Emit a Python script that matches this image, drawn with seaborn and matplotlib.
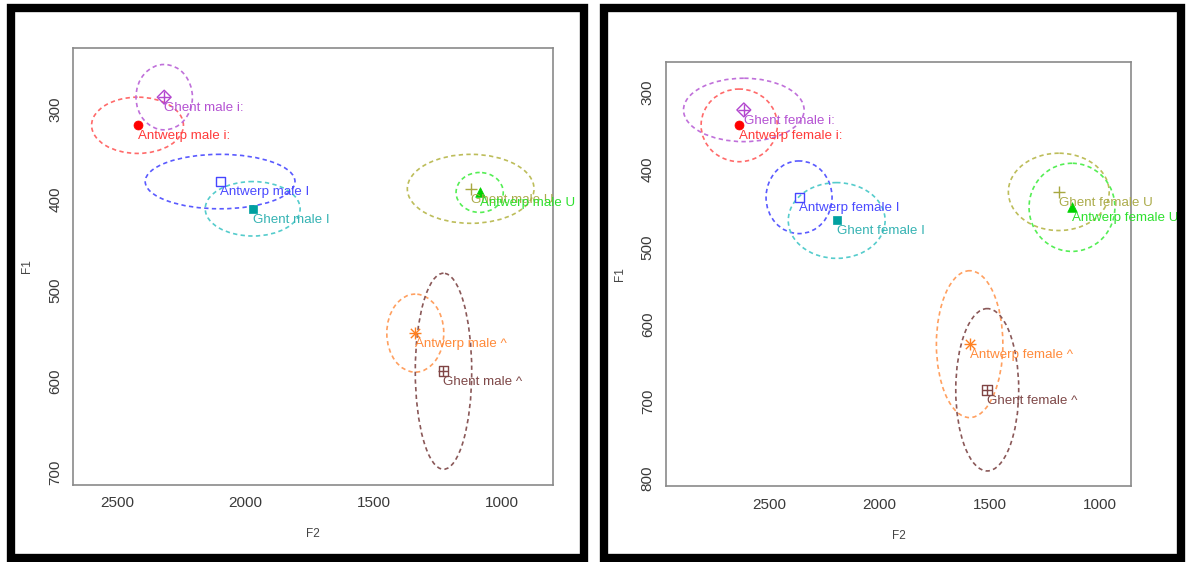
import matplotlib
matplotlib.use("Agg")
import matplotlib.pyplot as plt
import seaborn as sns
import pandas as pd
from matplotlib.patches import Ellipse, Rectangle

# ---------------- data ----------------
vowel_keys = ["Antwerp i:", "Ghent i:", "Antwerp I", "Ghent I",
              "Ghent U", "Antwerp U", "Antwerp ^", "Ghent ^"]

male_labels = ["Antwerp male i:", "Ghent male i:", "Antwerp male I", "Ghent male I",
               "Ghent male U", "Antwerp male U", "Antwerp male ^", "Ghent male ^"]
male_f2 = [2420, 2316, 2098, 1971, 1121, 1086, 1337, 1227]
male_f1 = [318, 287, 380, 410, 388, 392, 547, 589]
male_f2_spread = [179, 110, 292, 185, 247, 92, 111, 110]
male_f1_spread = [31, 36, 30, 30, 38, 22, 43, 108]

female_labels = ["Antwerp female i:", "Ghent female i:", "Antwerp female I", "Ghent female I",
                 "Ghent female U", "Antwerp female U", "Antwerp female ^", "Ghent female ^"]
female_f2 = [2637, 2616, 2365, 2194, 1185, 1125, 1590, 1510]
female_f1 = [343, 323, 436, 466, 429, 449, 626, 685]
female_f2_spread = [173, 274, 150, 220, 229, 195, 151, 143]
female_f1_spread = [47, 41, 47, 49, 50, 57, 95, 105]

male_xticks = [2500, 2000, 1500, 1000]
male_yticks = [300, 400, 500, 600, 700]
female_xticks = [2500, 2000, 1500, 1000]
female_yticks = [300, 400, 500, 600, 700, 800]

# ---------------- style ----------------
point_colors = ["#FF0000", "#B347CF", "#4646FF", "#00A0A0",
                "#A8A840", "#00D200", "#FF8020", "#804545"]
text_colors = ["#FF3A3A", "#B452D2", "#4A4AFF", "#35B3B3",
               "#ABAB4A", "#2EE02E", "#FF8A3A", "#7E4848"]
ell_colors = ["#FF6A6A", "#C070DA", "#5A5AFF", "#55CCCC",
              "#BDBD5A", "#55EE55", "#FFA060", "#8A5858"]
marker_kinds = ["circle", "diamondplus", "opensquare", "square",
                "plus", "triangle", "asterisk", "squareplus"]

sns.set_style("white")
plt.rcParams["font.family"] = ["Liberation Sans", "DejaVu Sans"]

W, H = 1187, 562
fig = plt.figure(figsize=(W / 100, H / 100), dpi=100)


def fx(px):
    return px / W


def fy(py):
    return 1 - py / H


def draw_marker(ax, x, y, kind, color):
    d = pd.DataFrame({"F2": [x], "F1": [y]})
    kw = dict(data=d, x="F2", y="F1", ax=ax, legend=False, zorder=5)
    if kind == "circle":
        sns.scatterplot(marker="o", s=42, color=color, edgecolor=color, linewidth=0.5, **kw)
    elif kind == "square":
        sns.scatterplot(marker="s", s=40, color=color, edgecolor=color, linewidth=0.5, **kw)
    elif kind == "triangle":
        sns.scatterplot(marker="^", s=48, color=color, edgecolor=color, linewidth=0.5, **kw)
    elif kind == "opensquare":
        sns.scatterplot(marker="s", s=42, facecolor="none", edgecolor=color, linewidth=1.0, **kw)
    elif kind == "plus":
        sns.scatterplot(marker="+", s=80, color=color, linewidth=1.0, **kw)
    elif kind == "asterisk":
        sns.scatterplot(marker="+", s=70, color=color, linewidth=1.0, **kw)
        sns.scatterplot(marker="x", s=45, color=color, linewidth=1.0, **kw)
    elif kind == "diamondplus":
        sns.scatterplot(marker="D", s=50, facecolor="none", edgecolor=color, linewidth=1.0, **kw)
        sns.scatterplot(marker="+", s=70, color=color, linewidth=1.0, **kw)
    elif kind == "squareplus":
        sns.scatterplot(marker="s", s=48, facecolor="none", edgecolor=color, linewidth=1.0, **kw)
        sns.scatterplot(marker="+", s=48, color=color, linewidth=1.0, **kw)


def panel(rect, labels, f2, f1, sx, sy, xlim, ylim, xticks, yticks):
    ax = fig.add_axes(rect)
    for i in range(len(labels)):
        e = Ellipse((f2[i], f1[i]), width=2 * sx[i], height=2 * sy[i],
                    fill=False, edgecolor=ell_colors[i], linewidth=1.2,
                    linestyle=(0, (2.6, 2.0)), zorder=3)
        ax.add_patch(e)
    for i in range(len(labels)):
        draw_marker(ax, f2[i], f1[i], marker_kinds[i], point_colors[i])
        ax.annotate(labels[i], (f2[i], f1[i]), xytext=(0, -3.5),
                    textcoords="offset points", ha="left", va="top",
                    fontsize=9.6, color=text_colors[i], zorder=6,
                    annotation_clip=False)
    ax.set_xlim(*xlim)
    ax.set_ylim(*ylim)
    ax.set_xticks(xticks)
    ax.set_xticklabels([str(t) for t in xticks])
    ax.set_yticks(yticks)
    ax.set_yticklabels([str(t) for t in yticks], rotation=90, va="center")
    ax.tick_params(axis="both", direction="out", length=5, width=1,
                   color="#8a8a8a", labelcolor="#3a3a3a", labelsize=11, pad=3)
    for s in ax.spines.values():
        s.set_color("#8a8a8a")
        s.set_linewidth(1.2)
    ax.set_xlabel("F2", fontsize=8.5, color="#444444", labelpad=13)
    ax.set_ylabel("F1", fontsize=8.5, color="#444444", labelpad=11)
    return ax


# left: male
panel([fx(73.4), fy(484.6), fx(552.5) - fx(73.4), fy(47.7) - fy(484.6)],
      male_labels, male_f2, male_f1, male_f2_spread, male_f1_spread,
      (2670, 802), (713.9, 232.5), male_xticks, male_yticks)

# right: female
panel([fx(665.9), fy(486.4), fx(1131.4) - fx(665.9), fy(62) - fy(486.4)],
      female_labels, female_f2, female_f1, female_f2_spread, female_f1_spread,
      (2970, 855), (810, 261), female_xticks, female_yticks)

# black frames around both panels
for x0, x1 in [(11, 584), (604, 1181)]:
    fig.add_artist(Rectangle((fx(x0), fy(558)), fx(x1) - fx(x0), fy(8) - fy(558),
                             transform=fig.transFigure, fill=False,
                             edgecolor="black", linewidth=6))

fig.savefig("out.png", dpi=100, facecolor="white")
